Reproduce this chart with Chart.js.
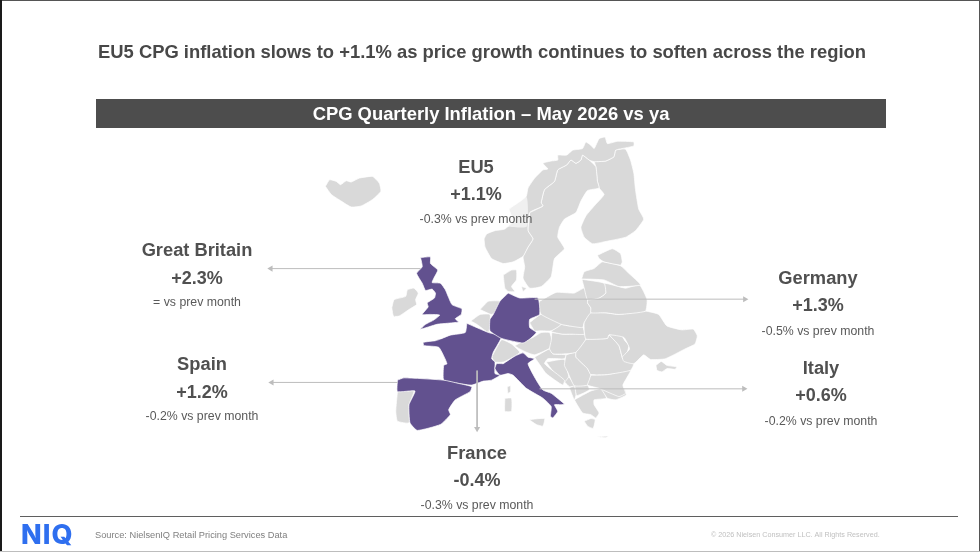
<!DOCTYPE html>
<html>
<head>
<meta charset="utf-8">
<title>EU5 CPG inflation</title>
<script src="https://cdn.jsdelivr.net/npm/chart.js@4"></script>
<style>
  html, body { margin: 0; padding: 0; background: #fff; }
  canvas { display: block; }
</style>
</head>
<body>
<canvas id="mapChart" width="980" height="552"></canvas>
<script>
// values shown on the slide
const regions = ['EU5', 'Great Britain', 'Germany', 'Italy', 'Spain', 'France'];
const inflation = ['+1.1%', '+2.3%', '+1.3%', '+0.6%', '+1.2%', '-0.4%'];
const vsPrevMonth = ['-0.3% vs prev month', '= vs prev month', '-0.5% vs prev month', '-0.2% vs prev month', '-0.2% vs prev month', '-0.3% vs prev month'];

const nordicOutlines = [
  [480, 130, 12,325,20,310,45,300,75,295,100,270,88,235,105,222,125,208,140,195,145,170,165,140,190,115,205,112,190,95,215,88,235,85,235,70,262,70,280,55,310,50,320,30,335,40,345,50,360,20,378,15,385,35,415,28,465,30,465,42,440,48,410,55,405,75,380,88,345,90,330,85,310,70,305,85,290,95,275,85,262,100,235,115,225,150,195,175,185,215,190,225,150,245,145,300,160,325,145,350,130,378,100,395,70,400,35,385,15,350],
  [480, 130, 150,245,190,225,185,215,195,175,225,150,235,115,262,100,275,85,290,95,305,85,310,70,330,85,350,105,355,150,360,170,325,178,305,210,290,245,255,265,240,290,235,320,255,355,225,385,215,440,185,470,150,475,130,445,135,410,130,380,145,350,160,325,145,300],
  [480, 130, 345,90,380,88,405,75,410,55,440,52,455,85,465,125,470,175,480,235,495,265,470,300,440,320,370,335,340,340,315,320,305,290,320,255,345,225,375,190,360,170,355,150,350,105],
  [480, 130, 355,375,400,355,425,370,430,395,425,405,375,395,360,385],
  [480, 130, 307,447,315,425,345,415,370,395,425,407,450,430,485,465,420,470,375,450]
];
const easternOutlines = [
  [520, 270, 188,28,255,40,260,70,240,85,205,90,195,55],
  [520, 270, 205,90,240,85,260,70,255,40,320,55,362,45,385,90,380,125,300,135,260,130,215,130,215,115,205,100],
  [520, 270, 195,185,195,160,215,130,260,130,300,135,380,125,420,135,445,170,490,182,525,180,537,200,530,225,500,240,440,270,395,272,375,258,345,285,315,278,310,265,332,240,315,205,270,197,265,208,200,210],
  [520, 270, 412,290,428,278,445,290,475,295,470,302,445,300,430,310,415,305],
  [520, 270, 270,197,305,195,318,215,330,230,325,250,312,270,300,230],
  [520, 270, 60,95,110,68,165,70,195,55,205,90,205,100,215,115,215,130,195,160,190,175,150,170,125,165,65,135,55,110],
  [520, 270, 30,160,65,135,125,165,95,185,65,185,45,185],
  [520, 270, 125,165,150,170,190,172,195,195,155,195,130,195,95,187],
  [520, 270, 97,190,130,195,155,195,195,195,200,210,170,250,140,255,100,255,90,240,95,215],
  [520, 270, -15,231,0,222,40,205,65,190,90,190,97,215,90,238,45,258,20,250,0,240],
  [520, 270, 200,210,265,208,270,197,300,230,312,270,345,285,335,305,265,318,215,318,205,300,170,265,170,250],
  [520, 270, 215,320,265,318,335,305,312,350,320,375,300,385,240,360,205,350,210,335],
  [520, 270, 140,258,170,250,170,265,205,300,215,320,205,350,165,352,145,310,135,290],
  [520, 270, 45,265,90,240,100,255,140,258,135,270,85,270,75,285,135,335,130,350,80,315,55,280],
  [520, 270, 80,280,135,272,145,310,148,325,130,345],
  [520, 270, 135,340,148,325,165,352,150,355],
  [520, 270, 150,358,165,352,170,380,165,395],
  [520, 270, 165,352,205,350,210,365,172,382],
  [520, 270, 165,395,215,368,245,362,262,390,225,395,225,410,240,435,230,450,215,440,190,435],
  [520, 270, 280,355,315,360,322,380,290,395,265,390,245,362],
  [520, 270, 195,460,215,452,228,455,222,482,205,475],
  [520, 270, 28,455,75,452,70,475,50,470],
  [520, 270, 230,508,268,505,260,510]
];
const westernOutlines = [
  [300, 130, 72,165,85,145,105,150,118,160,135,148,150,152,175,140,215,135,235,155,240,180,215,205,180,225,150,228,120,210,90,190],
  [380, 250, 33,175,40,150,75,140,80,120,100,115,113,130,105,150,108,165,85,180,55,200,38,200],
  [380, 250, 370,75,395,60,410,60,410,90,395,110,405,125,385,125,375,115],
  [380, 250, 425,110,440,115,430,125],
  [380, 250, 300,180,325,155,360,155,355,180,335,195],
  [380, 250, 272,215,300,195,330,195,330,225,325,250,290,225],
  [380, 250, 50,430,100,428,85,470,85,525,50,520,45,490],
  [380, 250, 335,325,365,272,395,285,420,310,405,322,370,340,345,340],
  [380, 250, 382,415,392,412,392,430,384,435],
  [380, 250, 375,450,395,450,395,490,375,490]
];
const eu5Outlines = [
  [380, 250, 120,22,150,20,150,40,172,60,160,85,155,98,180,100,195,120,215,165,245,178,243,195,225,208,235,218,200,222,170,225,120,240,135,225,160,212,178,197,150,195,125,195,143,172,140,160,162,145,165,130,155,118,135,122,125,100,108,70,125,50],
  [380, 250, 385,130,420,145,475,145,480,195,450,210,450,235,470,250,450,270,430,282,365,268,330,245,330,210,340,195,360,155],
  [380, 250, 370,345,405,322,430,312,445,325,465,330,445,345,470,395,490,425,515,435,555,468,545,470,525,470,535,490,520,510,513,505,515,475,490,450,440,420,400,380,385,375,360,380,345,360,350,345],
  [380, 250, 50,395,70,388,190,395,235,405,275,415,270,430,225,455,205,485,210,500,180,530,110,548,88,525,85,470,103,428,50,430],
  [380, 250, 260,222,325,250,365,262,340,310,335,330,345,340,345,375,360,380,335,395,310,398,275,410,235,405,190,395,190,350,200,345,175,295,130,290,128,280,165,275,180,270,210,258,255,250]
];
// white label box that sits over Norway behind the EU5 text
const labelBox = [[508, 196], [527, 196], [527, 226], [508, 226]].map(p => ({ x: p[0], y: p[1] }));
// leader lines from each country to its label: [x1, y1, x2, y2], arrow at the second end
const leaders = [[420, 268.5, 269, 268.5], [535, 299.5, 747, 299.5], [397, 384, 270, 384], [540, 390.5, 746, 390.5], [477, 372, 477, 431]];
const leaderRotation = [-90, 90, -90, 90, 180];

function toPoints(outline) {
  const pts = [];
  for (let i = 2; i < outline.length; i += 2) {
    pts.push({ x: outline[0] + outline[i] / 3, y: outline[1] + outline[i + 1] / 3 });
  }
  pts.push(pts[0]);
  return pts;
}

function shapeDataset(points, color, border) {
  return { data: points, showLine: true, fill: 'shape', backgroundColor: color, borderColor: border, borderWidth: 0.7, pointRadius: 0, tension: 0.15 };
}

function leaderDataset(line, i) {
  return {
    data: [{ x: line[0], y: line[1] }, { x: line[2], y: line[3] }],
    showLine: true, fill: false, borderColor: '#bdbdbd', borderWidth: 1,
    pointStyle: 'triangle', pointRadius: [0, 3.5], pointRotation: leaderRotation[i],
    pointBackgroundColor: '#bdbdbd', pointBorderWidth: 0
  };
}

// first dataset is painted last
const datasets = [
  ...leaders.map(leaderDataset),
  shapeDataset(labelBox, 'rgba(255,255,255,0.6)', 'rgba(255,255,255,0)'),
  ...eu5Outlines.map(o => shapeDataset(toPoints(o), '#62518f', '#ffffff')),
  ...nordicOutlines.concat(easternOutlines, westernOutlines).map(o => shapeDataset(toPoints(o), '#d9d9d9', '#ffffff'))
];

const labelPositions = [[476, 168, 195, 220], [197, 251, 279, 303], [818, 279, 306, 332], [821, 369, 396, 422], [202, 365, 393, 417], [477, 454, 481, 506]];

const slidePlugin = {
  id: 'slide',
  beforeDatasetsDraw(chart) {
    const ctx = chart.ctx;
    ctx.save();
    ctx.fillStyle = '#4d4d4d';
    ctx.fillRect(96, 99, 790, 29);
    ctx.fillStyle = '#ffffff';
    ctx.font = 'bold 18.4px "Liberation Sans"';
    ctx.textAlign = 'center';
    ctx.textBaseline = 'middle';
    ctx.fillText('CPG Quarterly Inflation – May 2026 vs ya', 491, 115);
    ctx.restore();
  },
  afterDatasetsDraw(chart) {
    const ctx = chart.ctx;
    ctx.save();
    ctx.textAlign = 'center';
    ctx.textBaseline = 'middle';
    ctx.fillStyle = '#484848';
    ctx.font = 'bold 18.4px "Liberation Sans"';
    ctx.fillText('EU5 CPG inflation slows to +1.1% as price growth continues to soften across the region', 482, 52.5);
    regions.forEach((name, i) => {
      const p = labelPositions[i];
      ctx.fillStyle = '#505050';
      ctx.font = 'bold 18.3px "Liberation Sans"';
      ctx.fillText(name, p[0], p[1]);
      ctx.font = 'bold 18px "Liberation Sans"';
      ctx.fillText(inflation[i], p[0], p[2]);
      ctx.font = '12.3px "Liberation Sans"';
      ctx.fillStyle = '#5a5a5a';
      ctx.fillText(vsPrevMonth[i], p[0], p[3]);
    });

    // footer
    ctx.fillStyle = '#5f5f5f';
    ctx.fillRect(20, 516, 938, 1);
    ctx.textAlign = 'left';
    ctx.textBaseline = 'alphabetic';
    ctx.fillStyle = '#2f6fef';
    ctx.font = '800 27px Inter';
    ctx.letterSpacing = '1px';
    ctx.fillText('NIQ', 21, 544);
    ctx.letterSpacing = '0px';
    ctx.textBaseline = 'middle';
    ctx.fillStyle = '#7f7f7f';
    ctx.font = '9.25px "Liberation Sans"';
    ctx.fillText('Source: NielsenIQ Retail Pricing Services Data', 95, 535);
    ctx.fillStyle = '#c0c0c0';
    ctx.font = '7.2px "Liberation Sans"';
    ctx.fillText('© 2026 Nielsen Consumer LLC. All Rights Reserved.', 711, 535);

    // slide frame
    ctx.fillStyle = '#555555';
    ctx.fillRect(0, 0, 980, 1);
    ctx.fillRect(979, 0, 1, 552);
    ctx.fillStyle = '#1a1a1a';
    ctx.fillRect(0, 0, 2, 552);
    ctx.fillStyle = '#bdbdbd';
    ctx.fillRect(0, 551, 980, 1);
    ctx.restore();
  }
};

document.addEventListener('DOMContentLoaded', () => {
  new Chart(document.getElementById('mapChart'), {
    type: 'scatter',
    data: { datasets: datasets },
    options: {
      responsive: false,
      animation: false,
      layout: { padding: 0 },
      plugins: { legend: { display: false }, tooltip: { enabled: false } },
      scales: {
        x: { type: 'linear', display: false, min: 0, max: 980 },
        y: { type: 'linear', display: false, min: 0, max: 552, reverse: true }
      }
    },
    plugins: [slidePlugin]
  });
});
</script>
</body>
</html>
